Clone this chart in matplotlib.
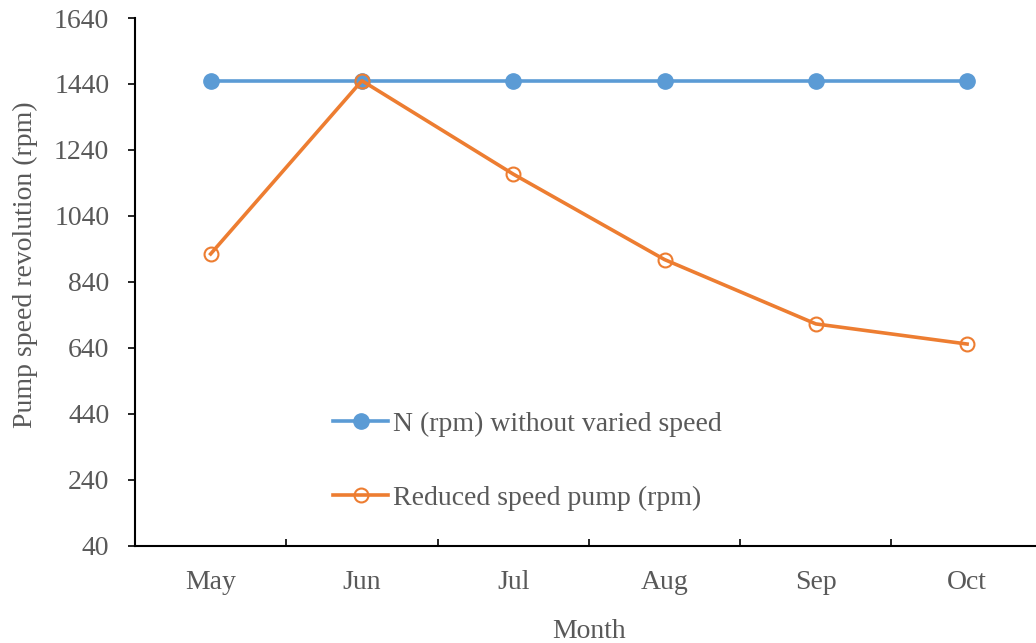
import numpy as np
from matplotlib import pyplot as plt

# Dati
months = ["May", "Jun", "Jul", "Aug", "Sep", "Oct"]
n_fixed = [1450, 1450, 1450, 1450, 1450, 1450]
n_reduced = [925, 1450, 1167, 908, 713, 652]
y_ticks = [40, 240, 440, 640, 840, 1040, 1240, 1440, 1640]

def main():
    plt.rcParams['font.family'] = ['Liberation Serif', 'DejaVu Serif']
    grey = "#595959"

    fig = plt.figure(figsize=(10.36, 6.43), dpi=100)
    ax = fig.add_axes([0.1303, 0.1509, 0.8762, 0.8211])

    x = np.arange(len(months))
    ax.plot(x, n_fixed, "-o", color="#5B9BD5", lw=2.6, ms=11,
            label="N (rpm) without varied speed", zorder=3)
    ax.plot(x, n_reduced, "-o", color="#ED7D31", lw=2.6, ms=10,
            mfc="none", mew=1.5, label="Reduced speed pump (rpm)", zorder=4)

    ax.set_xlim(-0.5, len(months) - 0.5)
    ax.set_ylim(40, 1640)
    ax.set_yticks(y_ticks)
    ax.set_xticks(x)
    ax.set_xticklabels(months)
    ax.set_xticks(np.arange(0.5, len(months) - 0.5), minor=True)
    ax.tick_params(axis="x", which="major", length=0, pad=17.5, labelsize=20, labelcolor=grey)
    ax.tick_params(axis="x", which="minor", direction="in", length=5, width=1.2)
    ax.tick_params(axis="y", direction="out", length=5, width=1.2, pad=13.5, labelsize=20, labelcolor=grey)

    for side in ["top", "right"]:
        ax.spines[side].set_visible(False)
    for side in ["left", "bottom"]:
        ax.spines[side].set_linewidth(1.5)

    ax.set_xlabel("Month", fontsize=20, color=grey, labelpad=17)
    ax.set_ylabel("Pump speed revolution (rpm)", fontsize=20, color=grey, labelpad=11.5)
    ax.yaxis.label.set_y(0.532)

    ax.legend(loc="upper left", bbox_to_anchor=(0.218, 0.255), frameon=False,
              fontsize=20, labelcolor=grey, handlelength=2.0, handletextpad=0.15,
              labelspacing=1.75, borderaxespad=0, borderpad=0)

    fig.savefig("out.png", dpi=100)

if __name__ == "__main__":
    main()
